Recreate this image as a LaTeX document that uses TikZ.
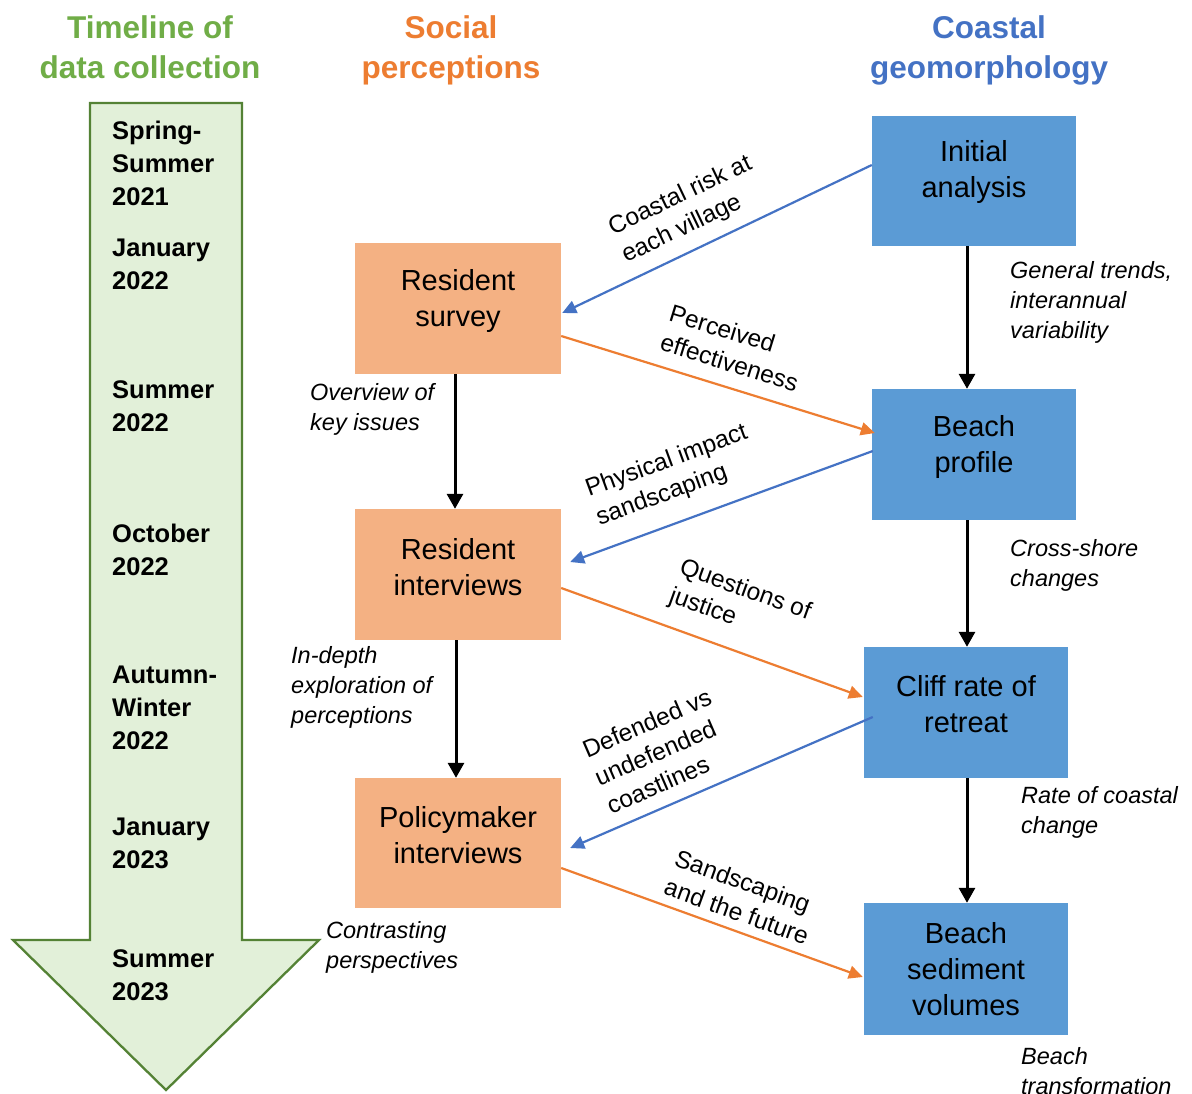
\documentclass[tikz,border=0pt]{standalone}
\usepackage{fontspec}
\setmainfont{Liberation Sans}
\usetikzlibrary{arrows.meta}

\definecolor{tlgreen}{HTML}{70AD47}
\definecolor{tlfill}{HTML}{E2F0D9}
\definecolor{tlborder}{HTML}{548235}
\definecolor{socorange}{HTML}{ED7D31}
\definecolor{geoblue}{HTML}{4472C4}
\definecolor{orfill}{HTML}{F4B183}
\definecolor{blfill}{HTML}{5B9BD5}

\tikzset{
  obox/.style={fill=orfill, draw=none, minimum width=206pt, minimum height=131pt, inner sep=0pt},
  bbox/.style={fill=blfill, draw=none, minimum width=204pt, minimum height=131pt, inner sep=0pt},
  boxtext/.style={font=\fontsize{29}{36}\selectfont, align=center, inner sep=0pt},
  note/.style={font=\fontsize{23.5}{30}\selectfont\itshape, align=left, anchor=west, inner sep=0pt},
  elabel/.style={font=\fontsize{24.5}{30.5}\selectfont, align=left, inner sep=0pt},
  when/.style={font=\fontsize{25.5}{33}\selectfont\bfseries, align=left, anchor=west, inner sep=0pt},
  head/.style={font=\fontsize{31.5}{40}\selectfont\bfseries, align=center, inner sep=0pt},
  flow/.style={line width=3pt, -{Triangle[length=15pt,width=16pt]}},
  bluearr/.style={draw=geoblue, line width=2.2pt, -{Triangle[length=14pt,width=13pt]}},
  orarr/.style={draw=socorange, line width=2.2pt, -{Triangle[length=14pt,width=13pt]}},
}

\begin{document}
\begin{tikzpicture}[x=1pt,y=-1pt]
\useasboundingbox (0,0) rectangle (1192,1093);
\fill[white] (0,0) rectangle (1192,1093);

% column headings
\node[head, text=tlgreen]   (h1) at (150,47) {Timeline of\\data collection};
\node[head, text=socorange] (h2) at (451,50) {Social\\perceptions};
\node[head, text=geoblue]   (h3) at (989,50) {Coastal\\geomorphology};

% timeline arrow
\draw[draw=tlborder, fill=tlfill, line width=2.3pt]
  (90,103) -- (242,103) -- (242,940) -- (319,940) -- (166,1090)
  -- (13,940) -- (90,940) -- cycle;

\node[when] (t1) at (112,163)   {Spring-\\Summer\\2021};
\node[when] (t2) at (112,264.5) {January\\2022};
\node[when] (t3) at (112,406.5) {Summer\\2022};
\node[when] (t4) at (112,549.5) {October\\2022};
\node[when] (t5) at (112,707.5) {Autumn-\\Winter\\2022};
\node[when] (t6) at (112,843.5) {January\\2023};
\node[when] (t7) at (112,975)   {Summer\\2023};

% social perceptions column
\node[obox] (rs) at (458,308.5) {};
\node[boxtext] (rs-t) at ([yshift=7.5pt]rs.center) {Resident\\survey};
\node[obox] (ri) at (458,574.5) {};
\node[boxtext] (ri-t) at ([yshift=7.5pt]ri.center) {Resident\\interviews};
\node[obox, minimum height=130pt] (pi) at (458,843) {};
\node[boxtext] (pi-t) at ([yshift=8pt]pi.center) {Policymaker\\interviews};

% coastal geomorphology column
\node[bbox, minimum height=130pt] (ia) at (974,181) {};
\node[boxtext] (ia-t) at ([yshift=9pt]ia.center) {Initial\\analysis};
\node[bbox] (bp) at (974,454.5) {};
\node[boxtext] (bp-t) at ([yshift=7.5pt]bp.center) {Beach\\profile};
\node[bbox] (cr) at (966,712.5) {};
\node[boxtext] (cr-t) at ([yshift=8pt]cr.center) {Cliff rate of\\retreat};
\node[bbox, minimum height=132pt] (sv) at (966,969) {};
\node[boxtext] (sv-t) at ([yshift=-0.5pt]sv.center) {Beach\\sediment\\volumes};

% vertical flows
\draw[flow] ([xshift=-3pt]rs.south) -- ([xshift=-3pt]ri.north);
\draw[flow] ([xshift=-2pt]ri.south) -- ([xshift=-2pt]pi.north);
\draw[flow] ([xshift=-7pt]ia.south) -- ([xshift=-7pt]bp.north);
\draw[flow] ([xshift=-7pt]bp.south) -- ([xshift=-7pt]bp.south |- cr.north);
\draw[flow] ([xshift=1pt]cr.south) -- ([xshift=1pt]sv.north);

% cross links
\draw[bluearr] ([yshift=16pt]ia.west) -- ([xshift=1pt,yshift=-4.5pt]rs.east);
\draw[orarr]   ([yshift=-27.5pt]rs.east) -- ([xshift=3pt,yshift=21.5pt]bp.west);
\draw[bluearr] ([xshift=1pt,yshift=3.5pt]bp.west) -- ([xshift=9pt,yshift=12.5pt]ri.east);
\draw[orarr]   ([yshift=-13.5pt]ri.east) -- ([xshift=-1pt,yshift=15.5pt]cr.west);
\draw[bluearr] ([xshift=9pt,yshift=-4.5pt]cr.west) -- ([xshift=9pt,yshift=-5pt]pi.east);
\draw[orarr]   ([yshift=-25pt]pi.east) -- ([xshift=-1pt,yshift=-8pt]sv.west);

% link labels
\node[elabel, rotate=25.5]  (l1) at (687,210) {Coastal risk at\\each village};
\node[elabel, rotate=-17.2] (l2) at (734,348) {Perceived\\effectiveness};
\node[elabel, rotate=20.1]  (l3) at (672,476) {Physical impact\\sandscaping};
\node[elabel, rotate=-19.8] (l4) at (740,605) {Questions of\\justice};
\node[elabel, rotate=23.4]  (l5) at (659,751) {Defended vs\\undefended\\coastlines};
\node[elabel, rotate=-19.8] (l6) at (742,897) {Sandscaping\\and the future};

% notes on the outputs
\node[note] (n1) at (310,409)  {Overview of\\key issues};
\node[note] (n2) at (291,687)  {In-depth\\exploration of\\perceptions};
\node[note] (n3) at (326,947)  {Contrasting\\perspectives};
\node[note] (n4) at (1010,302) {General trends,\\interannual\\variability};
\node[note] (n5) at (1010,565) {Cross-shore\\changes};
\node[note] (n6) at (1021,812) {Rate of coastal\\change};
\node[note] (n7) at (1021,1071) {Beach\\transformation};
\end{tikzpicture}
\end{document}
